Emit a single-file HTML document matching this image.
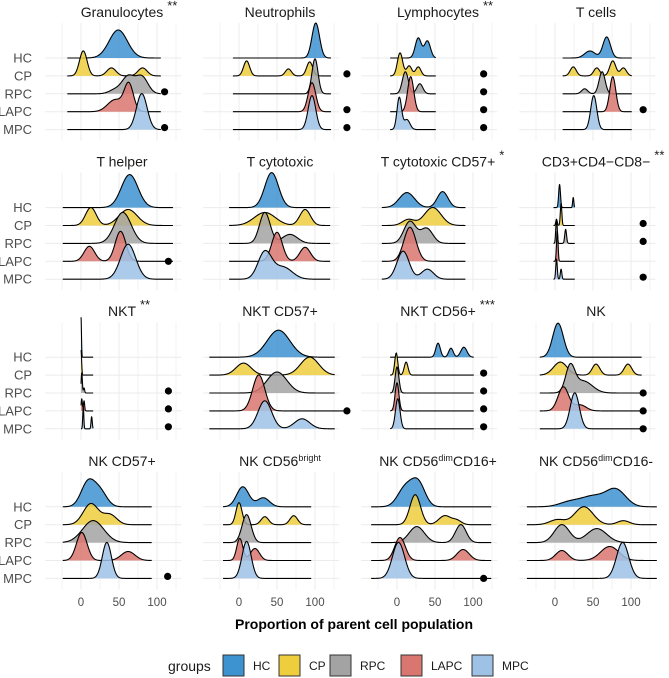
<!DOCTYPE html>
<html><head><meta charset="utf-8"><style>
html,body{margin:0;padding:0;background:#fff;}
svg{display:block;font-family:"Liberation Sans",sans-serif;}
</style></head><body>
<svg id="chart" width="669" height="678" viewBox="0 0 669 678" xmlns="http://www.w3.org/2000/svg"></svg>
<script>
// ---- data ----
const groups = ["HC","CP","RPC","LAPC","MPC"];
const groupColors = ["#3D92D0","#EFCE3E","#A3A3A3","#D9766F","#9DC2E6"];
const panelTitles = ["Granulocytes","Neutrophils","Lymphocytes","T cells","T helper","T cytotoxic","T cytotoxic CD57+","CD3+CD4\u2212CD8\u2212","NKT","NKT CD57+","NKT CD56+","NK","NK CD57+","NK CD56|bright","NK CD56|dim|CD16+","NK CD56|dim|CD16-"];
const panelSig = ["**","","**","","","","*","**","**","","***","","","","",""];
const rangeMin = [-18,-8,-9,10,-24,-13,-20,-2,0,-39,-9,-20,-24,-21,-34,-37];
const rangeMax = [105,121,51,101,121,120,90,26,16,126,101,114,93,95,124,134];
// components per panel, per group: [mean, sd, height]
const comps = [
 [[[49,12,28]],[[3,5,25],[40,6,8],[81,6,8]],[[62,8,17],[80,8,17],[45,8,4]],[[63,6,27],[45,10,12]],[[80,7,36]]],
 [[[101,5,35]],[[10,4,15],[65,4,7],[93,4,14]],[[100,4,35]],[[96,5,29]],[[96,5,34]]],
 [[[28,4,20],[40,4,17]],[[4,3.5,23],[16,3.5,10],[28,3.5,9]],[[11,4,22],[30,4,10]],[[18,4,35]],[[3,3,32],[13,4,10]]],
 [[[46,7,7],[68,5,21]],[[24,4,9],[55,4,8],[76,4,15],[90,4,8]],[[39,4,5],[62,4,22]],[[76,4,35]],[[51,4,34]]],
 [[[64,11,33]],[[13,7,18],[62,12,16]],[[55,11,31]],[[11,7,15],[52,7,30]],[[62,10,35]]],
 [[[43,9,35]],[[34,14,13],[87,7,16]],[[34,7,31],[67,10,9]],[[50,7,29],[87,7,14]],[[34,9,27],[58,12,12]]],
 [[[13,10,15],[60,7,16]],[[47,11,18],[15,8,6]],[[17,8,22],[39,8,15]],[[17,8,34]],[[8,8,28],[40,8,10]]],
 [[[6,1.2,23],[24,0.8,10]],[[2,1,6],[8,1,22]],[[2,1,24],[14,1.2,14]],[[3,1,30]],[[2,1,20],[8,1,10]]],
 [[[0,0.6,40]],[[0,0.8,25]],[[1,0.8,20],[4,0.8,5]],[[1,0.8,12],[4,0.8,10]],[[3,0.7,22],[14,0.8,12]]],
 [[[52,15,27]],[[6,10,12],[93,12,18]],[[50,13,21]],[[26,8,36]],[[34,9,28],[83,10,10]]],
 [[[54,3,14],[71,3,9],[88,4,10]],[[-1,2,22],[12,2.5,13]],[[0,2.5,26]],[[0,2.5,28]],[[1,3,30]]],
 [[[4,7,34]],[[7,9,13],[54,5,11],[96,5,11]],[[20,6,25],[37,12,12]],[[11,7,24],[33,8,6]],[[26,6,36]]],
 [[[9,9,24],[25,9,15]],[[13,10,21],[38,9,10]],[[16,14,22]],[[1,7,28],[62,9,9]],[[34,6,36]]],
 [[[5,8,20],[32,8,9]],[[0,4,22],[34,5,8],[72,5,9]],[[10,6,28]],[[1,4,22],[21,6,12]],[[10,6,37]]],
 [[[11,10,19],[28,9,23]],[[24,7,30],[63,8,9],[79,6,4]],[[26,10,16],[84,7,18]],[[4,7,23],[87,8,11]],[[2,8,36]]],
 [[[20,14,5],[50,15,10],[80,13,17]],[[38,12,18],[3,10,5],[90,8,4]],[[9,10,18],[55,13,14]],[[9,8,10],[72,12,14]],[[89,8,36]]]
];
const dotGroups = [[2,4],[1,3,4],[1,2,3,4],[3],[3],[],[],[1,2,4],[2,3,4],[3],[1,2,3,4],[2,3,4],[4],[],[4],[]];
const dotX = [110,142,114,116,115,0,0,116,115,142,114,116,114,0,114,0];
const dotLinked = [false,false,false,false,true,false,false,false,false,true,false,true,false,false,true,false];
const xTicks = [0,50,100];
const gridTicks = [-25,0,25,50,75,100,125];

// ---- layout ----
const NS = "http://www.w3.org/2000/svg";
const svg = document.getElementById("chart");
const PX = 0.76, COL0 = 81, COLW = 158, ROW0 = 58, ROWH = 149.6, GAP = 17.9;
const xs = (c, v) => COL0 + c * COLW + v * PX;
const ys = (r, g) => ROW0 + r * ROWH + g * GAP;
function mk(tag, attrs, parent) {
  const e = document.createElementNS(NS, tag);
  for (const k in attrs) e.setAttribute(k, attrs[k]);
  (parent || svg).appendChild(e);
  return e;
}
function dens(cs, v) { let s = 0; for (const c of cs) s += c[2] * Math.exp(-0.5 * Math.pow((v - c[0]) / c[1], 2)); return s; }

for (let p = 0; p < 16; p++) {
  const r = Math.floor(p / 4), c = p % 4;
  const panel = mk("g", {});
  
  
  const top = ys(r, 0) - 35, bot = ys(r, 4) + 11;
  for (const t of gridTicks) {
    const gl = mk("line", {x1: xs(c, t), x2: xs(c, t), y1: top, y2: bot, stroke: "#ebebeb", "stroke-width": (t % 50 === 0) ? 1 : 0.6}, panel);
    
    
  }
  for (let g = 0; g < 5; g++) {
    const hl = mk("line", {x1: xs(c, -47), x2: xs(c, 132), y1: ys(r, g), y2: ys(r, g), stroke: "#ebebeb", "stroke-width": 1}, panel);
    
    
  }
  const parts = panelTitles[p].split("|");
  const tt = mk("text", {x: COL0 + c * COLW + 41, y: ys(r, 0) - 41, "text-anchor": "middle", "font-size": 14, fill: "#1a1a1a"}, panel);
  
  
  parts.forEach((s, i) => {
    const ts = mk("tspan", {}, tt);
    if (i % 2 === 1) { ts.setAttribute("font-size", 9); ts.setAttribute("dy", -5); }
    else if (i > 0) { ts.setAttribute("dy", 5); }
    ts.textContent = s;
  });
  if (panelSig[p]) {
    const sg = mk("text", {x: COL0 + c * COLW + 41, y: ys(r, 0) - 48, "font-size": 13, fill: "#1a1a1a"}, panel);
    
    
    sg.textContent = panelSig[p];
    const w = tt.getComputedTextLength ? tt.getComputedTextLength() : 80;
    sg.setAttribute("x", COL0 + c * COLW + 41 + w / 2 + 4);
  }
  if (c === 0) {
    for (let g = 0; g < 5; g++) {
      const lb = mk("text", {x: 32, y: ys(r, g) + 4.5, "text-anchor": "end", "font-size": 13, fill: "#4d4d4d"}, panel);
      
      
      lb.textContent = groups[g];
    }
  }
  for (let g = 0; g < 5; g++) {
    const lo = rangeMin[p];
    let hi = rangeMax[p];
    if (dotLinked[p] && dotGroups[p].includes(g)) hi = Math.max(hi, dotX[p]);
    const N = 260, base = ys(r, g);
    let pts = [];
    for (let i = 0; i <= N; i++) {
      const v = lo + (hi - lo) * i / N;
      pts.push(xs(c, v).toFixed(2) + "," + (base - dens(comps[p][g], v)).toFixed(2));
    }
    const area = mk("path", {d: "M" + xs(c, lo) + "," + base + " L" + pts.join(" L") + " L" + xs(c, hi) + "," + base + " Z", fill: groupColors[g], "fill-opacity": 0.85}, panel);
    
    
    const ln = mk("path", {d: "M" + pts.join(" L"), fill: "none", stroke: "#000", "stroke-width": 1.1}, panel);
    
    
  }
  for (const g of dotGroups[p]) {
    const d = mk("circle", {cx: xs(c, dotX[p]), cy: ys(r, g) - (dotLinked[p] ? 0 : 2), r: 3.6, fill: "#000"}, panel);
    
    
  }
  if (r === 3) {
    for (const t of xTicks) {
      const tl = mk("text", {x: xs(c, t), y: 606, "text-anchor": "middle", "font-size": 11.5, fill: "#4d4d4d"}, panel);
      
      
      tl.textContent = t;
    }
  }
}
const xt = mk("text", {x: 354, y: 629, "text-anchor": "middle", "font-size": 14, "font-weight": "bold", fill: "#000"});


xt.textContent = "Proportion of parent cell population";
const lg = mk("g", {});


const lt = mk("text", {x: 168, y: 671, "font-size": 14, fill: "#1a1a1a"}, lg);


lt.textContent = "groups";
const boxX = [223, 279, 330, 401, 472];
for (let g = 0; g < 5; g++) {
  const b = mk("rect", {x: boxX[g], y: 655, width: 21, height: 21, fill: groupColors[g], stroke: "#333", "stroke-width": 1}, lg);
  
  
  const t = mk("text", {x: boxX[g] + 30, y: 670, "font-size": 12, fill: "#1a1a1a"}, lg);
  
  
  t.textContent = groups[g];
}
</script>
</body></html>
